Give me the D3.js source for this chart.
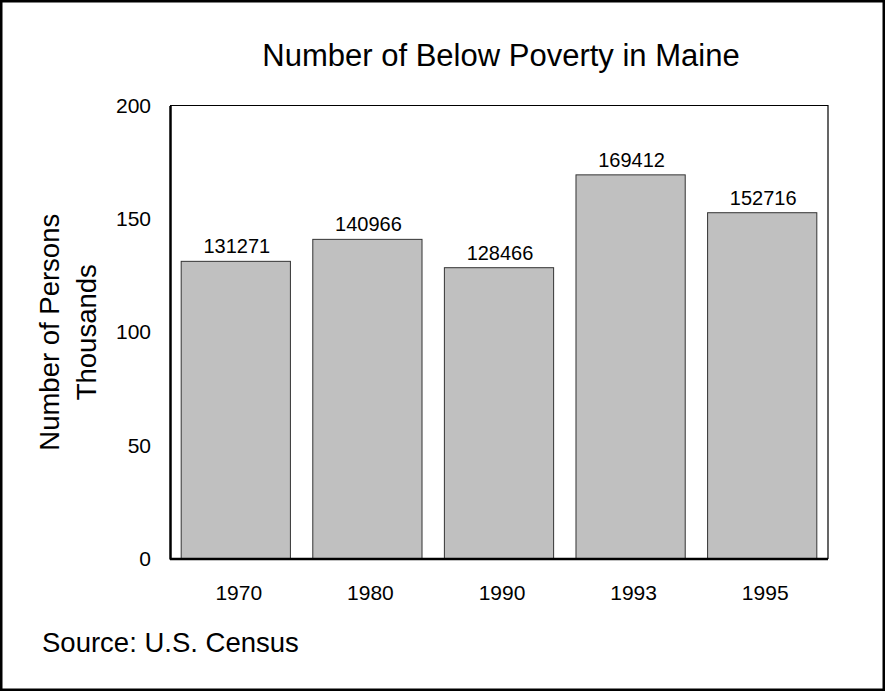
<!DOCTYPE html>
<html>
<head>
<meta charset="utf-8">
<script src="https://cdn.jsdelivr.net/npm/d3@7"></script>
<style>
  body { margin: 0; background: #fff; }
  text { font-family: "Liberation Sans", Arial, sans-serif; fill: #000; }
</style>
</head>
<body>
<div id="chart"></div>
<script>
// Chart data
const years = ["1970", "1980", "1990", "1993", "1995"];
const persons = [131271, 140966, 128466, 169412, 152716];
const yTicks = [0, 50, 100, 150, 200];

const width = 885, height = 691;
const plot = { left: 170, right: 828, top: 105.5, bottom: 559 };

const svg = d3.select('#chart').append('svg')
    .attr('width', width)
    .attr('height', height);

// outer frame
svg.append('rect')
    .attr('x', 1.25).attr('y', 1.25)
    .attr('width', width - 2.5).attr('height', height - 2.5)
    .attr('fill', 'white')
    .attr('stroke', 'black')
    .attr('stroke-width', 2.5);

const x = d3.scaleBand()
    .domain(years)
    .range([plot.left, plot.right])
    .paddingInner(0.17)
    .paddingOuter(0.085);

const y = d3.scaleLinear()
    .domain([0, 200])
    .range([plot.bottom, plot.top]);

// plot area top/right border
svg.append('path')
    .attr('d', `M${plot.left},${plot.top}H${plot.right}V${plot.bottom}`)
    .attr('fill', 'none')
    .attr('stroke', 'black')
    .attr('stroke-width', 1.2);

// bars
svg.selectAll('rect.bar')
    .data(persons)
    .enter().append('rect')
    .attr('class', 'bar')
    .attr('x', (d, i) => x(years[i]))
    .attr('y', d => y(d / 1000))
    .attr('width', x.bandwidth())
    .attr('height', d => plot.bottom - y(d / 1000))
    .attr('fill', '#c0c0c0')
    .attr('stroke', '#333')
    .attr('stroke-width', 1);

// value labels
svg.selectAll('text.value')
    .data(persons)
    .enter().append('text')
    .attr('class', 'value')
    .attr('x', (d, i) => x(years[i]) + x.bandwidth() / 2 + 1)
    .attr('y', d => y(d / 1000) - 8)
    .attr('text-anchor', 'middle')
    .style('font-size', '20px')
    .text(d => d);

// y axis
const yAxis = svg.append('g')
    .attr('transform', `translate(${plot.left},0)`)
    .call(d3.axisLeft(y).tickValues(yTicks).tickSize(0).tickPadding(19));
yAxis.select('.domain').attr('stroke', 'black').attr('stroke-width', 2.5);
yAxis.selectAll('text').style('font-size', '21px').attr('fill', '#000');

// x axis
const xAxis = svg.append('g')
    .attr('transform', `translate(0,${plot.bottom})`)
    .call(d3.axisBottom(x).tickSize(0).tickPadding(26));
xAxis.select('.domain').attr('stroke', 'black').attr('stroke-width', 2.5)
    .attr('d', `M${plot.left},0H${plot.right}`);
xAxis.selectAll('text').style('font-size', '21px').attr('fill', '#000')
    .attr('dx', 3);

// title
svg.append('text')
    .attr('x', 501)
    .attr('y', 66)
    .attr('text-anchor', 'middle')
    .style('font-size', '31px')
    .text('Number of Below Poverty in Maine');

// y axis title (two lines)
const midY = (plot.top + plot.bottom) / 2;
svg.append('text')
    .attr('transform', `translate(59,${midY}) rotate(-90)`)
    .attr('text-anchor', 'middle')
    .style('font-size', '27.5px')
    .text('Number of Persons');
svg.append('text')
    .attr('transform', `translate(96,${midY}) rotate(-90)`)
    .attr('text-anchor', 'middle')
    .style('font-size', '27.5px')
    .text('Thousands');

// source note
svg.append('text')
    .attr('x', 42)
    .attr('y', 652)
    .style('font-size', '27.5px')
    .text('Source: U.S. Census');
</script>
</body>
</html>
